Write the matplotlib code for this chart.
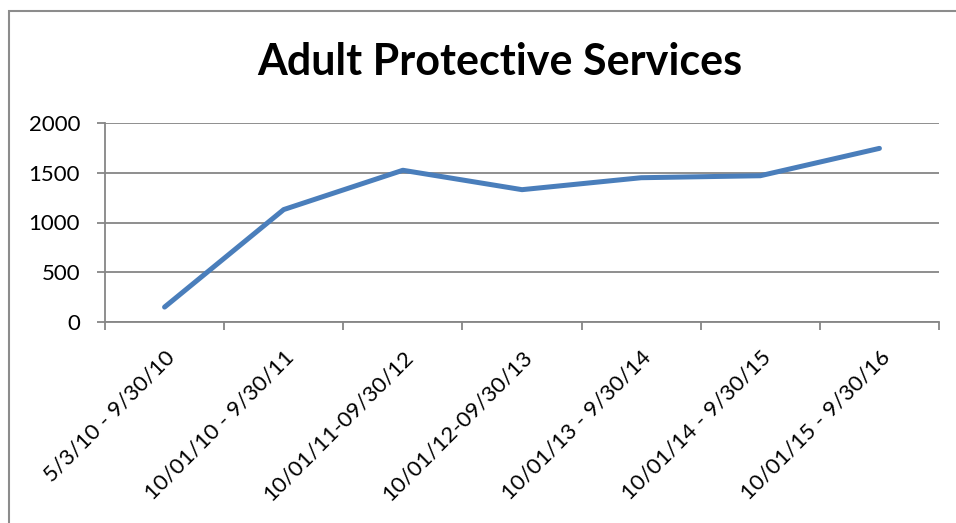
import matplotlib
matplotlib.use("Agg")
import matplotlib.pyplot as plt
from matplotlib.patches import Rectangle
import numpy as np

categories = ["5/3/10 - 9/30/10", "10/01/10 - 9/30/11", "10/01/11-09/30/12",
              "10/01/12-09/30/13", "10/01/13 - 9/30/14", "10/01/14 - 9/30/15",
              "10/01/15 - 9/30/16"]
values = [150, 1130, 1525, 1330, 1450, 1470, 1745]
yticks = [0, 500, 1000, 1500, 2000]

plt.rcParams['font.family'] = ['Lato', 'DejaVu Sans']

W, H = 956, 523
fig = plt.figure(figsize=(W/100, H/100), dpi=100)
fig.patches.append(Rectangle((8.5/W, -0.1), 1.2, 1 - 11.5/H + 0.1, transform=fig.transFigure,
                             fill=False, edgecolor='#8c8c8c', linewidth=1.5))

ax = fig.add_axes([105/W, 1 - 322/H, (939-105)/W, (322-123)/H])
x = np.arange(len(categories))
ax.plot(x, values, color='#4A7EBB', linewidth=3.6, solid_capstyle='round', solid_joinstyle='round', zorder=3)
ax.set_xlim(-0.5, len(categories) - 0.5)
ax.set_ylim(0, 2000)
ax.set_yticks(yticks)
ax.set_yticklabels([str(v) for v in yticks], fontsize=16)
ax.yaxis.grid(True, color='#868686', linewidth=1.3)
ax.set_axisbelow(True)

ax.set_xticks(x)
ax.set_xticklabels(categories, rotation=45, ha='right', rotation_mode='anchor', fontsize=16)
ax.tick_params(axis='x', which='major', length=0, pad=18)
ax.set_xticks(np.arange(-0.5, len(categories)), minor=True)
ax.tick_params(axis='x', which='minor', length=6, width=1.3, color='#868686', direction='out')
ax.tick_params(axis='y', length=6, width=1.3, color='#868686', pad=12)

for s in ['top', 'right']:
    ax.spines[s].set_visible(False)
for s in ['left', 'bottom']:
    ax.spines[s].set_color('#868686')
    ax.spines[s].set_linewidth(1.3)

fig.text(500/W, 1 - 62/H, "Adult Protective Services", ha='center', va='center',
         fontsize=31, fontweight='bold')

fig.savefig("out.png", dpi=100)
